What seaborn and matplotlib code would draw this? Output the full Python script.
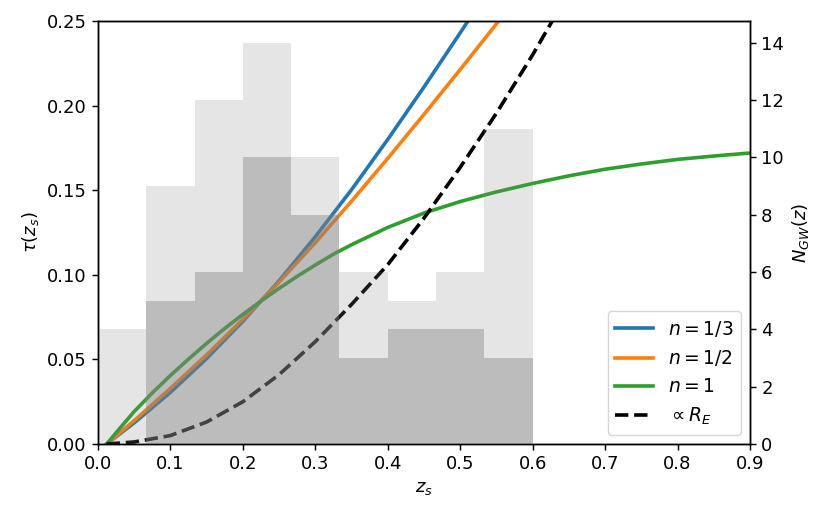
import numpy as np
import pandas as pd
import matplotlib
matplotlib.use("Agg")
import matplotlib.pyplot as plt
import seaborn as sns

# optical depth curves
z = [0.012, 0.05, 0.1, 0.15, 0.2, 0.25, 0.3, 0.35, 0.4, 0.45, 0.5, 0.55, 0.6]
tau_n13 = [0.0, 0.0125, 0.0305, 0.0505, 0.0725, 0.0965, 0.1225, 0.1503, 0.1800,
           0.2110, 0.2430, 0.2757, 0.3090]
tau_n12 = [0.0, 0.0138, 0.0329, 0.0527, 0.0737, 0.0957, 0.1190, 0.1435, 0.1688,
           0.1948, 0.2213, 0.2483, 0.2758]

z_n1 = [0.012, 0.03, 0.05, 0.075, 0.1, 0.125, 0.15, 0.175, 0.2, 0.225, 0.25, 0.275,
        0.3, 0.325, 0.35, 0.4, 0.45, 0.5, 0.55, 0.6, 0.65, 0.7, 0.75, 0.8, 0.85, 0.9]
tau_n1 = [0.0, 0.0092, 0.0192, 0.0302, 0.0405, 0.0502, 0.0595, 0.0683, 0.0766,
          0.0845, 0.0920, 0.0991, 0.1058, 0.1122, 0.1178, 0.1280, 0.1365, 0.1433,
          0.1490, 0.1540, 0.1585, 0.1624, 0.1655, 0.1682, 0.1702, 0.1720]

z_rate = [0.012, 0.05, 0.1, 0.15, 0.2, 0.25, 0.3, 0.35, 0.4, 0.45, 0.5, 0.55, 0.6, 0.65]
rate = [0.0, 0.0012, 0.0050, 0.0130, 0.0250, 0.0410, 0.0605, 0.0825, 0.1060,
        0.1335, 0.1635, 0.1955, 0.2300, 0.2670]

# GW event counts per redshift bin
edges = [0.0, 1/15, 2/15, 3/15, 4/15, 5/15, 6/15, 7/15, 8/15, 9/15]
n_all = [4, 9, 12, 14, 10, 6, 5, 6, 11]
n_sub = [0, 5, 6, 10, 8, 3, 4, 4, 3]

hist = pd.DataFrame({
    "mid": [(a + b) / 2 for a, b in zip(edges[:-1], edges[1:])],
    "all": n_all,
    "sub": n_sub,
})

plt.rcParams.update({
    "font.size": 13,
    "axes.linewidth": 1.04,
    "xtick.major.width": 1.04,
    "ytick.major.width": 1.04,
    "xtick.major.size": 4.55,
    "ytick.major.size": 4.55,
    "mathtext.fontset": "dejavusans",
})

fig = plt.figure(figsize=(8.31, 5.19), dpi=100)
ax = fig.add_axes([0.1179, 0.1445, 0.7846, 0.815])

lw = 2.6
sns.lineplot(x=z, y=tau_n13, ax=ax, color="C0", lw=lw, label="$n=1/3$")
sns.lineplot(x=z, y=tau_n12, ax=ax, color="C1", lw=lw, label="$n=1/2$")
sns.lineplot(x=z_n1, y=tau_n1, ax=ax, color="C2", lw=lw, label="$n=1$")
sns.lineplot(x=z_rate, y=rate, ax=ax, color="k", lw=lw, linestyle="--", label=r"$\propto R_E$")

ax.set_xlim(0, 0.9)
ax.set_ylim(0, 0.25)
ax.set_xticks(np.arange(0, 0.91, 0.1))
ax.set_yticks([0, 0.05, 0.1, 0.15, 0.2, 0.25])
ax.set_xlabel("$z_s$")
ax.set_ylabel(r"$\tau(z_s)$")
ax.legend(loc="lower right", fontsize=13.5)

ax2 = ax.twinx()
sns.histplot(data=hist, x="mid", weights="all", bins=edges, ax=ax2,
             color="gray", alpha=0.2, linewidth=0)
sns.histplot(data=hist, x="mid", weights="sub", bins=edges, ax=ax2,
             color="gray", alpha=0.4, linewidth=0)
ax2.set_ylim(0, 14.75)
ax2.set_yticks(range(0, 15, 2))
ax2.set_ylabel("$N_{GW}(z)$")
ax.set_xlim(0, 0.9)

fig.savefig("out.png", dpi=100)
